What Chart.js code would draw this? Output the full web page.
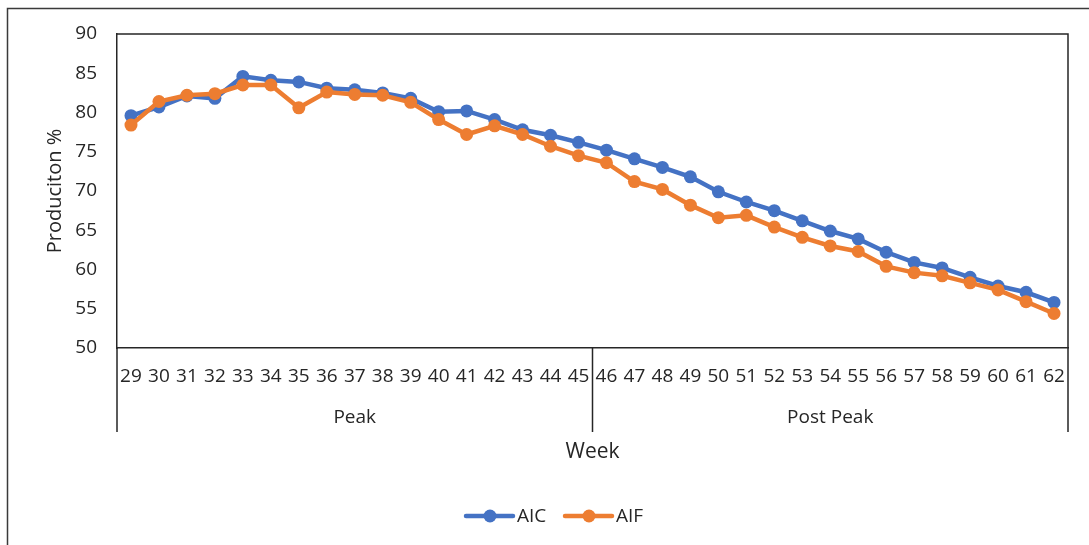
<!DOCTYPE html>
<html>
<head>
<meta charset="utf-8">
<script src="https://cdn.jsdelivr.net/npm/chart.js@4"></script>
<style>
  html, body { margin: 0; padding: 0; background: #fff; }
  canvas { display: block; }
</style>
</head>
<body>
<canvas id="chart" width="1089" height="545"></canvas>
<script>
// weeks on the x axis
const weeks = ['29', '30', '31', '32', '33', '34', '35', '36', '37', '38', '39', '40', '41', '42', '43', '44', '45',
  '46', '47', '48', '49', '50', '51', '52', '53', '54', '55', '56', '57', '58', '59', '60', '61', '62'];

// production % per week
const aic = [79.6, 80.7, 82.1, 81.8, 84.6, 84.1, 83.9, 83.1, 82.9, 82.5, 81.8, 80.1, 80.2, 79.1, 77.8, 77.1, 76.2,
  75.2, 74.1, 73.0, 71.8, 69.9, 68.6, 67.5, 66.2, 64.9, 63.9, 62.2, 60.9, 60.2, 59.0, 57.9, 57.1, 55.8];
const aif = [78.4, 81.4, 82.2, 82.4, 83.5, 83.5, 80.6, 82.6, 82.3, 82.2, 81.3, 79.1, 77.2, 78.3, 77.2, 75.7, 74.5,
  73.6, 71.2, 70.2, 68.2, 66.6, 66.9, 65.4, 64.1, 63.0, 62.3, 60.4, 59.6, 59.2, 58.3, 57.4, 55.9, 54.4];

// outer category level
const groupLabels = ['Peak', 'Post Peak'];
const groupSizes = [17, 17];

const BLUE = '#4472C4';
const ORANGE = '#ED7D31';
const INK = '#262626';
const FONT = "'Open Sans', sans-serif";

// frame, plot box, week groups and the legend, Excel style
const excelBits = {
  id: 'excelBits',
  beforeDraw(chart) {
    const ctx = chart.ctx;
    ctx.save();
    ctx.strokeStyle = '#3a3a3a';
    ctx.lineWidth = 1.5;
    ctx.strokeRect(7.5, 8.5, 1200, 600);
    ctx.restore();
  },
  afterDraw(chart) {
    const ctx = chart.ctx;
    const area = chart.chartArea;
    const x = chart.scales.x;
    const groupBottom = area.bottom + 84;

    ctx.save();
    ctx.strokeStyle = INK;
    ctx.lineWidth = 1.5;

    // top and right of the plot box
    ctx.beginPath();
    ctx.moveTo(area.left, area.top);
    ctx.lineTo(area.right, area.top);
    ctx.lineTo(area.right, area.bottom);
    ctx.stroke();

    // group separators
    let start = 0;
    const edges = [area.left];
    groupSizes.forEach((n) => {
      const last = start + n - 1;
      const edge = last + 1 < weeks.length
        ? (x.getPixelForValue(last) + x.getPixelForValue(last + 1)) / 2
        : area.right;
      edges.push(edge);
      start += n;
    });
    ctx.beginPath();
    edges.forEach((e) => {
      ctx.moveTo(e, area.bottom);
      ctx.lineTo(e, groupBottom);
    });
    ctx.stroke();

    ctx.fillStyle = INK;
    ctx.font = '19px ' + FONT;
    ctx.textAlign = 'center';
    ctx.textBaseline = 'middle';
    groupLabels.forEach((label, i) => {
      ctx.fillText(label, (edges[i] + edges[i + 1]) / 2, area.bottom + 70);
    });

    // legend
    const items = [
      { text: 'AIC', color: BLUE, x: 464 },
      { text: 'AIF', color: ORANGE, x: 563 },
    ];
    const ly = 516;
    ctx.textAlign = 'left';
    items.forEach((it) => {
      ctx.strokeStyle = it.color;
      ctx.lineWidth = 4.5;
      ctx.lineCap = 'round';
      ctx.beginPath();
      ctx.moveTo(it.x + 2, ly);
      ctx.lineTo(it.x + 49, ly);
      ctx.stroke();
      ctx.fillStyle = it.color;
      ctx.beginPath();
      ctx.arc(it.x + 26, ly, 6.5, 0, Math.PI * 2);
      ctx.fill();
      ctx.fillStyle = INK;
      ctx.fillText(it.text, it.x + 53, ly + 1);
    });
    ctx.restore();
  }
};

new Chart(document.getElementById('chart'), {
  type: 'line',
  data: {
    labels: weeks,
    datasets: [
      {
        label: 'AIC',
        data: aic,
        borderColor: BLUE,
        backgroundColor: BLUE,
        borderWidth: 4.5,
        pointRadius: 6.5,
        pointBorderWidth: 0,
        pointHoverRadius: 6.5,
        tension: 0,
        order: 1,
      },
      {
        label: 'AIF',
        data: aif,
        borderColor: ORANGE,
        backgroundColor: ORANGE,
        borderWidth: 4.5,
        pointRadius: 6.5,
        pointBorderWidth: 0,
        pointHoverRadius: 6.5,
        tension: 0,
        order: 0,
      },
    ],
  },
  options: {
    responsive: false,
    animation: false,
    layout: {
      padding: { left: 0, top: 34, right: 21, bottom: 78 },
    },
    scales: {
      x: {
        offset: true,
        grid: { display: false, drawTicks: false },
        border: { display: true, color: INK, width: 1.5 },
        ticks: {
          autoSkip: false,
          maxRotation: 0,
          padding: 17,
          color: INK,
          font: { family: FONT, size: 19 },
        },
        title: {
          display: true,
          text: 'Week',
          color: INK,
          font: { family: FONT, size: 21 },
          padding: { top: 0, bottom: 2 },
        },
        afterFit(scale) { scale.height = 119; },
      },
      y: {
        min: 50,
        max: 90,
        grid: { display: false, drawTicks: false },
        border: { display: true, color: INK, width: 1.5 },
        ticks: {
          stepSize: 5,
          padding: 20,
          color: INK,
          font: { family: FONT, size: 19 },
        },
        title: {
          display: true,
          text: 'Produciton %',
          color: INK,
          font: { family: FONT, size: 20 },
          padding: { top: 43, bottom: 0 },
        },
        afterFit(scale) { scale.width = 117; },
      },
    },
    plugins: {
      legend: { display: false },
      tooltip: { enabled: false },
    },
  },
  plugins: [excelBits],
});
</script>
</body>
</html>
